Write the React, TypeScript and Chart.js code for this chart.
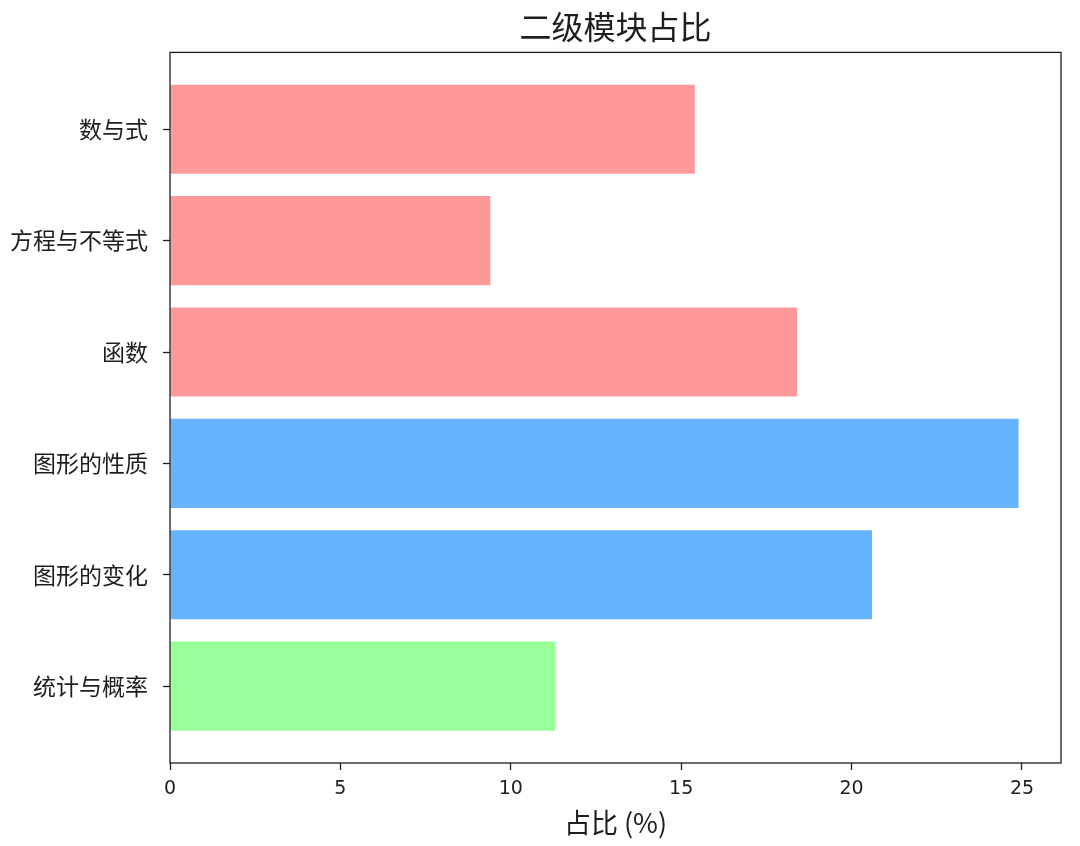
import { useEffect, useRef } from "react"
import { Chart, registerables } from "chart.js"

Chart.register(...registerables)

// Data
const categories = ["数与式", "方程与不等式", "函数", "图形的性质", "图形的变化", "统计与概率"]
const shares = [15.4, 9.4, 18.4, 24.9, 20.6, 11.3]
const barColors = ["#ff9999", "#ff9999", "#ff9999", "#66b3ff", "#66b3ff", "#99ff99"]
const xTickValues = [0, 5, 10, 15, 20, 25]

const chartTitle = "二级模块占比"
const xAxisTitle = "占比 (%)"

const INK = "#1e1e1e"
const CJK = '"Noto Sans CJK SC", "DejaVu Sans", sans-serif'
const NUM = '"DejaVu Sans", "Noto Sans CJK SC", sans-serif'

// matplotlib-like margins: bars are 0.8 tall, 5% padding on the value range
const BAR_HEIGHT = 0.8
const ySpan = categories.length - 1 + BAR_HEIGHT
const yMin = -BAR_HEIGHT / 2 - 0.05 * ySpan
const yMax = categories.length - 1 + BAR_HEIGHT / 2 + 0.05 * ySpan
const xMax = Math.max(...shares) * 1.05

// draws the full box around the plot area
const frameBox = {
  id: "frameBox",
  afterDraw(chart: Chart) {
    const { ctx, chartArea } = chart
    ctx.save()
    ctx.strokeStyle = INK
    ctx.lineWidth = 1.3
    ctx.strokeRect(chartArea.left, chartArea.top, chartArea.right - chartArea.left, chartArea.bottom - chartArea.top)
    ctx.restore()
  },
}

export default function App() {
  const canvasRef = useRef<HTMLCanvasElement>(null)
  const chartRef = useRef<Chart | null>(null)

  useEffect(() => {
    if (!canvasRef.current) return
    if (chartRef.current) chartRef.current.destroy()

    chartRef.current = new Chart(canvasRef.current, {
      type: "bar",
      data: {
        datasets: [
          {
            data: shares.map((v, i) => ({ x: v, y: i })),
            backgroundColor: barColors,
            borderWidth: 0,
            categoryPercentage: 1,
            barPercentage: BAR_HEIGHT,
          },
        ],
      },
      options: {
        indexAxis: "y",
        animation: false,
        responsive: true,
        maintainAspectRatio: false,
        layout: { padding: { left: 0, right: 19, top: 0, bottom: 0 } },
        scales: {
          x: {
            type: "linear",
            min: 0,
            max: xMax,
            afterBuildTicks: (scale: any) => {
              scale.ticks = xTickValues.map((value) => ({ value }))
            },
            afterFit: (scale: any) => {
              scale.height = 83
            },
            border: { display: false },
            grid: { drawOnChartArea: false, drawTicks: true, tickLength: 7, tickColor: INK, tickWidth: 1.3 },
            ticks: { color: INK, padding: 8, font: { family: NUM, size: 19 } },
            title: {
              display: true,
              text: xAxisTitle,
              color: INK,
              font: { family: CJK, size: 27 },
              padding: { top: 0, bottom: 7 },
            },
          },
          y: {
            type: "linear",
            reverse: true,
            offset: false,
            min: yMin,
            max: yMax,
            afterBuildTicks: (scale: any) => {
              scale.ticks = categories.map((_, i) => ({ value: i }))
            },
            afterFit: (scale: any) => {
              scale.width = 170
            },
            border: { display: false },
            grid: {
              offset: false,
              drawOnChartArea: false,
              drawTicks: true,
              tickLength: 7,
              tickColor: INK,
              tickWidth: 1.3,
            },
            ticks: {
              color: INK,
              padding: 15,
              font: { family: CJK, size: 23 },
              callback: (value: any) => categories[value] ?? "",
            },
          },
        },
        plugins: {
          legend: { display: false },
          tooltip: { enabled: false },
          title: {
            display: true,
            text: chartTitle,
            fullSize: false,
            color: INK,
            font: { family: CJK, size: 32, weight: "normal" },
            padding: { top: 8, bottom: 6 },
          },
        },
      },
      plugins: [frameBox],
    })

    return () => {
      if (chartRef.current) {
        chartRef.current.destroy()
        chartRef.current = null
      }
    }
  }, [])

  return (
    <div style={{ position: "absolute", left: 0, top: 0, width: 1080, height: 846, background: "#fff" }}>
      <canvas ref={canvasRef} />
    </div>
  )
}
